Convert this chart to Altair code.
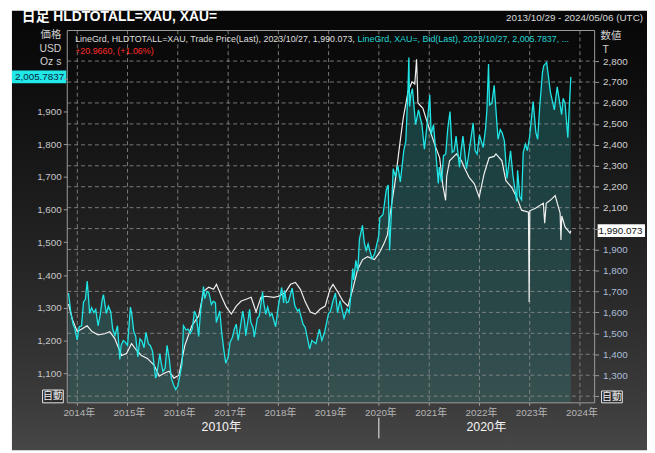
import altair as alt
import pandas as pd

# ---------------- data ----------------
# XAU= gold price (USD/oz), left axis
xau_points = [
    ("2013-10-29", 1345), ("2013-11-15", 1287), ("2013-12-01", 1250), ("2013-12-15", 1235),
    ("2013-12-31", 1202), ("2014-01-15", 1242), ("2014-02-01", 1245), ("2014-02-15", 1318),
    ("2014-03-01", 1326), ("2014-03-14", 1382), ("2014-04-01", 1283), ("2014-04-15", 1300),
    ("2014-05-01", 1285), ("2014-05-15", 1295), ("2014-06-01", 1245), ("2014-06-15", 1275),
    ("2014-07-01", 1325), ("2014-07-10", 1340), ("2014-07-31", 1282), ("2014-08-15", 1305),
    ("2014-09-01", 1288), ("2014-09-15", 1235), ("2014-10-01", 1215), ("2014-10-20", 1245),
    ("2014-11-06", 1142), ("2014-11-15", 1185), ("2014-12-01", 1200), ("2014-12-15", 1195),
    ("2015-01-01", 1185), ("2015-01-22", 1302), ("2015-02-01", 1280), ("2015-02-15", 1228),
    ("2015-03-01", 1213), ("2015-03-17", 1150), ("2015-04-01", 1205), ("2015-04-15", 1198),
    ("2015-05-01", 1178), ("2015-05-15", 1225), ("2015-06-01", 1190), ("2015-06-15", 1185),
    ("2015-07-01", 1168), ("2015-07-24", 1085), ("2015-08-01", 1095), ("2015-08-24", 1160),
    ("2015-09-01", 1135), ("2015-09-15", 1105), ("2015-10-01", 1115), ("2015-10-15", 1185),
    ("2015-11-01", 1142), ("2015-11-15", 1085), ("2015-12-01", 1065), ("2015-12-17", 1050),
    ("2016-01-01", 1060), ("2016-01-15", 1090), ("2016-02-01", 1128), ("2016-02-11", 1245),
    ("2016-03-01", 1232), ("2016-03-15", 1235), ("2016-04-01", 1222), ("2016-04-15", 1235),
    ("2016-05-01", 1290), ("2016-05-15", 1275), ("2016-06-01", 1212), ("2016-06-15", 1290),
    ("2016-07-06", 1365), ("2016-07-15", 1328), ("2016-08-01", 1350), ("2016-08-15", 1345),
    ("2016-09-01", 1310), ("2016-09-15", 1320), ("2016-10-01", 1315), ("2016-10-07", 1255),
    ("2016-11-01", 1290), ("2016-11-15", 1225), ("2016-12-01", 1170), ("2016-12-15", 1130),
    ("2017-01-01", 1150), ("2017-01-15", 1195), ("2017-02-01", 1210), ("2017-02-15", 1235),
    ("2017-03-01", 1250), ("2017-03-15", 1200), ("2017-04-01", 1245), ("2017-04-17", 1290),
    ("2017-05-01", 1255), ("2017-05-09", 1215), ("2017-06-06", 1295), ("2017-06-15", 1255),
    ("2017-07-01", 1240), ("2017-07-10", 1210), ("2017-08-01", 1268), ("2017-08-15", 1275),
    ("2017-09-08", 1348), ("2017-09-15", 1320), ("2017-10-01", 1280), ("2017-10-15", 1302),
    ("2017-11-01", 1275), ("2017-11-15", 1283), ("2017-12-12", 1242), ("2017-12-31", 1303),
    ("2018-01-25", 1362), ("2018-02-08", 1315), ("2018-02-15", 1353), ("2018-03-01", 1315),
    ("2018-03-15", 1318), ("2018-04-11", 1360), ("2018-05-01", 1305), ("2018-05-21", 1290),
    ("2018-06-01", 1295), ("2018-06-29", 1250), ("2018-07-15", 1240), ("2018-08-16", 1174),
    ("2018-09-01", 1200), ("2018-09-15", 1195), ("2018-10-01", 1190), ("2018-10-26", 1235),
    ("2018-11-13", 1200), ("2018-12-01", 1222), ("2018-12-31", 1282), ("2019-01-15", 1290),
    ("2019-02-01", 1320), ("2019-02-20", 1345), ("2019-03-07", 1285), ("2019-03-25", 1322),
    ("2019-04-23", 1268), ("2019-05-15", 1297), ("2019-05-30", 1285), ("2019-06-10", 1330),
    ("2019-06-25", 1420), ("2019-07-02", 1385), ("2019-07-18", 1445), ("2019-08-01", 1412),
    ("2019-08-13", 1510), ("2019-09-04", 1552), ("2019-09-17", 1500), ("2019-10-01", 1475),
    ("2019-10-15", 1495), ("2019-11-12", 1450), ("2019-12-01", 1465), ("2019-12-31", 1520),
    ("2020-01-08", 1575), ("2020-01-31", 1585), ("2020-02-24", 1660), ("2020-03-09", 1675),
    ("2020-03-19", 1475), ("2020-04-01", 1590), ("2020-04-14", 1725), ("2020-05-01", 1700),
    ("2020-05-18", 1735), ("2020-06-05", 1685), ("2020-06-30", 1780), ("2020-07-15", 1810),
    ("2020-07-31", 1975), ("2020-08-06", 2065), ("2020-08-11", 1915), ("2020-08-20", 1950),
    ("2020-09-01", 1970), ("2020-09-24", 1860), ("2020-10-15", 1905), ("2020-11-09", 1860),
    ("2020-11-27", 1785), ("2020-12-15", 1855), ("2021-01-05", 1950), ("2021-01-15", 1830),
    ("2021-02-01", 1860), ("2021-02-15", 1790), ("2021-03-08", 1680), ("2021-03-15", 1730),
    ("2021-03-31", 1685), ("2021-04-15", 1765), ("2021-05-01", 1770), ("2021-05-15", 1845),
    ("2021-06-01", 1900), ("2021-06-17", 1775), ("2021-07-01", 1780), ("2021-07-15", 1825),
    ("2021-08-09", 1730), ("2021-08-20", 1780), ("2021-09-03", 1825), ("2021-09-29", 1725),
    ("2021-10-15", 1770), ("2021-11-16", 1865), ("2021-12-01", 1780), ("2021-12-15", 1770),
    ("2022-01-01", 1828), ("2022-01-28", 1790), ("2022-02-15", 1850), ("2022-02-24", 1905),
    ("2022-03-08", 2045), ("2022-03-15", 1920), ("2022-04-01", 1925), ("2022-04-18", 1980),
    ("2022-05-16", 1815), ("2022-06-01", 1845), ("2022-06-15", 1835), ("2022-07-01", 1810),
    ("2022-07-20", 1695), ("2022-08-15", 1780), ("2022-09-01", 1705), ("2022-09-28", 1625),
    ("2022-10-05", 1720), ("2022-10-21", 1640), ("2022-11-03", 1630), ("2022-11-15", 1775),
    ("2022-12-01", 1800), ("2022-12-15", 1780), ("2023-01-01", 1825), ("2023-01-26", 1930),
    ("2023-02-15", 1835), ("2023-02-28", 1815), ("2023-03-15", 1915), ("2023-04-04", 2020),
    ("2023-04-13", 2040), ("2023-05-04", 2050), ("2023-05-15", 2015), ("2023-05-31", 1960),
    ("2023-06-29", 1905), ("2023-07-20", 1975), ("2023-08-08", 1925), ("2023-08-21", 1890),
    ("2023-09-01", 1940), ("2023-09-15", 1925), ("2023-10-05", 1820), ("2023-10-16", 1920),
    ("2023-10-27", 2005.7837),
]

# HLDTOTALL=XAU holdings (tonnes), right axis
hld_points = [
    ("2013-10-29", 1640), ("2013-11-25", 1569), ("2014-01-01", 1508), ("2014-02-06", 1522),
    ("2014-03-13", 1536), ("2014-04-18", 1508), ("2014-05-31", 1493), ("2014-07-19", 1498),
    ("2014-08-25", 1508), ("2014-09-30", 1475), ("2014-11-19", 1394), ("2014-12-25", 1404),
    ("2015-01-30", 1451), ("2015-03-08", 1418), ("2015-04-12", 1394), ("2015-05-25", 1380),
    ("2015-07-14", 1347), ("2015-08-19", 1295), ("2015-09-24", 1309), ("2015-10-30", 1319),
    ("2015-12-04", 1286), ("2016-01-09", 1300), ("2016-02-21", 1441), ("2016-04-12", 1536),
    ("2016-06-01", 1583), ("2016-07-07", 1701), ("2016-08-12", 1720), ("2016-09-17", 1710),
    ("2016-10-08", 1734), ("2016-11-13", 1677), ("2016-12-19", 1625), ("2017-01-24", 1592),
    ("2017-03-01", 1630), ("2017-04-06", 1654), ("2017-05-12", 1663), ("2017-06-17", 1672),
    ("2017-07-23", 1602), ("2017-08-27", 1672), ("2017-10-02", 1677), ("2017-11-29", 1672),
    ("2018-01-03", 1677), ("2018-02-22", 1696), ("2018-03-30", 1734), ("2018-05-05", 1743),
    ("2018-06-10", 1710), ("2018-07-16", 1649), ("2018-08-21", 1602), ("2018-09-26", 1592),
    ("2018-11-01", 1616), ("2018-12-07", 1630), ("2019-01-11", 1710), ("2019-02-02", 1734),
    ("2019-03-10", 1696), ("2019-04-15", 1654), ("2019-05-21", 1630), ("2019-06-25", 1710),
    ("2019-07-31", 1805), ("2019-09-05", 1852), ("2019-10-11", 1866), ("2019-11-30", 1852),
    ("2020-01-05", 1885), ("2020-02-10", 1932), ("2020-03-03", 1970), ("2020-03-24", 2074),
    ("2020-04-29", 2229), ("2020-06-04", 2418), ("2020-06-26", 2526), ("2020-07-31", 2654),
    ("2020-08-29", 2701), ("2020-09-18", 2690), ("2020-10-01", 2809), ("2020-10-11", 2600),
    ("2020-11-16", 2574), ("2020-12-22", 2498), ("2021-02-11", 2400), ("2021-03-18", 2338),
    ("2021-04-09", 2210), ("2021-04-30", 2135), ("2021-05-08", 2250), ("2021-05-29", 2324),
    ("2021-07-18", 2357), ("2021-08-23", 2324), ("2021-09-14", 2291), ("2021-10-19", 2243),
    ("2021-11-24", 2215), ("2021-12-30", 2150), ("2022-02-04", 2262), ("2022-03-12", 2338),
    ("2022-04-17", 2345), ("2022-05-01", 2357), ("2022-06-13", 2324), ("2022-07-12", 2229),
    ("2022-08-24", 2196), ("2022-09-29", 2149), ("2022-11-03", 2088), ("2022-12-23", 2078),
    ("2022-12-28", 1649), ("2023-01-02", 2085), ("2023-02-12", 2097), ("2023-04-10", 2121),
    ("2023-04-20", 2026), ("2023-05-01", 2121), ("2023-05-30", 2135), ("2023-07-05", 2158),
    ("2023-08-10", 2074), ("2023-08-16", 1946), ("2023-08-22", 2060), ("2023-09-15", 2008),
    ("2023-10-21", 1979), ("2023-10-27", 1990.073),
]

left_ticks = [1100, 1200, 1300, 1400, 1500, 1600, 1700, 1800, 1900, 2000]
right_ticks = [1200, 1300, 1400, 1500, 1600, 1700, 1800, 1900, 2000, 2100,
               2200, 2300, 2400, 2500, 2600, 2700, 2800]
year_ticks = ["2014-01-01", "2015-01-01", "2016-01-01", "2017-01-01", "2018-01-01",
              "2019-01-01", "2020-01-01", "2021-01-01", "2022-01-01", "2023-01-01",
              "2024-01-01"]
year_labels = ["2014年", "2015年", "2016年", "2017年", "2018年", "2019年",
               "2020年", "2021年", "2022年", "2023年", "2024年"]
decade_dates = ["2016-11-13", "2022-02-20"]
decade_labels = ["2010年", "2020年"]
decade_tick = ["2020-01-01"]

title_text = "日足 HLDTOTALL=XAU, XAU="
range_text = "2013/10/29 - 2024/05/06 (UTC)"
legend_white = "LineGrd, HLDTOTALL=XAU, Trade Price(Last), 2023/10/27, 1,990.073,"
legend_cyan = "LineGrd, XAU=, Bid(Last), 2023/10/27, 2,005.7837, ..."
change_text = "+20.9660, (+1.06%)"
left_units = ["価格", "USD", "Oz s"]
right_units = ["数値", "T"]
auto_text = "自動"

# ---------------- chart ----------------
W, H = 534, 377
FONT = "Liberation Sans, Noto Sans CJK JP"
CYAN = "#1fe6e6"
GRIDC = "#8c8c8c"

xau = pd.DataFrame(xau_points, columns=["date", "price"])
hld = pd.DataFrame(hld_points, columns=["date", "tonnes"])
years = pd.DataFrame({"date": year_ticks, "label": year_labels})
one = pd.DataFrame({"k": [0]})

xs = alt.Scale(domain=[alt.DateTime(year=2013, month=10, date=20, utc=True),
                       alt.DateTime(year=2024, month=4, date=17, utc=True)], nice=False)
ls = alt.Scale(domain=[1009.4, 2147.5], zero=False, nice=False)
rs = alt.Scale(domain=[1168, 2946], zero=False, nice=False)
X_NONE = alt.X("date:T", scale=xs, axis=None)


def txt(text, x, y, size=10, color="#d0d0d0", align="left", weight="normal"):
    return alt.Chart(one).mark_text(
        text=text, align=align, baseline="middle", fontSize=size, color=color,
        font=FONT, fontWeight=weight
    ).encode(x=alt.value(x), y=alt.value(y))


bg = alt.Chart(one).mark_rect(
    fill=alt.Gradient(
        gradient="linear", x1=0, x2=0, y1=0, y2=1,
        stops=[alt.GradientStop(offset=0, color="#070707"),
               alt.GradientStop(offset=0.12, color="#0b0b0b"),
               alt.GradientStop(offset=0.43, color="#1c1c1c"),
               alt.GradientStop(offset=0.66, color="#2a2a2a"),
               alt.GradientStop(offset=0.89, color="#3b3b3b"),
               alt.GradientStop(offset=1, color="#474747")])
).encode(x=alt.value(-56), x2=alt.value(587), y=alt.value(-20), y2=alt.value(425))

area = alt.Chart(xau).mark_area(
    clip=True,
    fill=alt.Gradient(
        gradient="linear", x1=0, x2=0, y1=0, y2=1,
        stops=[alt.GradientStop(offset=0, color="rgba(40,165,165,0.32)"),
               alt.GradientStop(offset=0.6, color="rgba(40,165,165,0.18)"),
               alt.GradientStop(offset=1, color="rgba(40,165,165,0.07)")])
).encode(
    x=X_NONE,
    y=alt.Y("price:Q", scale=ls, axis=alt.Axis(
        orient="left", values=left_ticks,
        labelExpr="datum.value == 2000 ? '' : format(datum.value, ',')",
        labelColor="#c6c6c6", labelFontSize=10, labelFont=FONT, labelPadding=2,
        tickColor="#9a9a9a", tickSize=4, domain=False, grid=False, title=None,
        zindex=1, labelFlush=False, labelOverlap=False)),
)

hgrid = alt.Chart(pd.DataFrame({"v": right_ticks})).mark_rule(
    color=GRIDC, strokeDash=[4, 3], strokeWidth=1, opacity=0.85
).encode(y=alt.Y("v:Q", scale=rs, axis=None), x=alt.value(0), x2=alt.value(W))

vgrid = alt.Chart(years).mark_rule(
    color=GRIDC, strokeDash=[4, 3], strokeWidth=1, opacity=0.85
).encode(x=X_NONE, y=alt.value(0), y2=alt.value(H))

# x axis ticks and labels (from the year list, placed by the time scale)
xticks = alt.Chart(years).mark_rule(color="#9a9a9a", strokeWidth=1).encode(
    x=X_NONE, y=alt.value(H), y2=alt.value(H + 3))
xlabels = alt.Chart(years).mark_text(
    color="#b6b6b6", fontSize=10, font=FONT, baseline="middle", align="center", dx=2
).encode(x=X_NONE, y=alt.value(H + 10), text="label:N")

white_line = alt.Chart(hld).mark_line(
    color="#f0f0f0", strokeWidth=1.2, clip=True
).encode(
    x=X_NONE,
    y=alt.Y("tonnes:Q", scale=rs, axis=alt.Axis(
        orient="right", values=right_ticks,
        labelExpr="(datum.value == 2000 || datum.value == 1200) ? '' : format(datum.value, ',')",
        labelColor={"condition": {"test": "datum.value < 2000", "value": "#a9bdd8"},
                    "value": "#cfcfcf"},
        labelFontSize=10, labelFont=FONT, labelPadding=4,
        tickColor="#9a9a9a", tickSize=4, domain=False, grid=False, title=None,
        zindex=1, labelFlush=False, labelOverlap=False)),
)

cyan_line = alt.Chart(xau).mark_line(
    color=CYAN, strokeWidth=1.3, clip=True
).encode(x=X_NONE, y=alt.Y("price:Q", scale=ls, axis=None))

frame = alt.Chart(one).mark_rect(
    fillOpacity=0, stroke="#9c9c9c", strokeWidth=1
).encode(x=alt.value(0), x2=alt.value(W), y=alt.value(0), y2=alt.value(H))

# value boxes on the axes, positioned by the scales
xau_last = xau.tail(1)
hld_last = hld.tail(1)
left_box = alt.Chart(xau_last).transform_calculate(
    lo="datum.price - 19.6", hi="datum.price + 19.6"
).mark_rect(fill="#22e8e8").encode(
    x=alt.value(-56), x2=alt.value(-1),
    y=alt.Y("lo:Q", scale=ls, axis=None), y2="hi:Q")
left_box_text = alt.Chart(xau_last).mark_text(
    align="right", baseline="middle", fontSize=10, color="#0a2640", font=FONT
).encode(x=alt.value(-3), y=alt.Y("price:Q", scale=ls, axis=None),
         text=alt.Text("price:Q", format=",.4f"))

right_box = alt.Chart(hld_last).transform_calculate(
    lo="datum.tonnes - 30.7", hi="datum.tonnes + 30.7"
).mark_rect(fill="#ffffff").encode(
    x=alt.value(537), x2=alt.value(585),
    y=alt.Y("lo:Q", scale=rs, axis=None), y2="hi:Q")
right_box_text = alt.Chart(hld_last).mark_text(
    align="left", baseline="middle", fontSize=10, color="#111111", font=FONT
).encode(x=alt.value(538), y=alt.Y("tonnes:Q", scale=rs, axis=None),
         text=alt.Text("tonnes:Q", format=",.3f"))

decades = alt.Chart(pd.DataFrame({"date": decade_dates, "label": decade_labels})).mark_text(
    color="#f4f4f4", fontSize=12.5, font=FONT, baseline="middle", align="center"
).encode(x=X_NONE, y=alt.value(H + 25), text="label:N")

decade_rule = alt.Chart(pd.DataFrame({"date": decade_tick})).mark_rule(
    color="#f4f4f4", strokeWidth=1
).encode(x=X_NONE, y=alt.value(H + 15), y2=alt.value(H + 36))

auto_left_box = alt.Chart(one).mark_rect(fill="#2a2a2a", stroke="#e8e8e8", strokeWidth=1).encode(
    x=alt.value(-25), x2=alt.value(-4), y=alt.value(364), y2=alt.value(377))
auto_right_box = alt.Chart(one).mark_rect(fill="#2a2a2a", stroke="#e8e8e8", strokeWidth=1).encode(
    x=alt.value(541), x2=alt.value(562), y=alt.value(365), y2=alt.value(377))

layers = [
    bg, area, hgrid, vgrid, xticks, xlabels, white_line, cyan_line, frame,
    left_box, left_box_text, right_box, right_box_text,
    decades, decade_rule, auto_left_box, auto_right_box,
    txt(auto_text, -14.5, 370.5, size=10, color="#f0f0f0", align="center"),
    txt(auto_text, 551.5, 371, size=10, color="#f0f0f0", align="center"),
    txt(title_text, -46, -14, size=14, color="#ffffff", weight="bold"),
    txt(range_text, 583, -13, size=10, color="#d8d8d8", align="right"),
    txt(legend_white, 8, 9, size=9, color="#dedede"),
    txt(legend_cyan, 294, 9, size=9, color="#25d4d4"),
    txt(change_text, 8, 21, size=9, color="#ff2a2a"),
    txt(left_units[0], -6, 5, size=10.5, color="#d0d0d0", align="right"),
    txt(left_units[1], -6, 19, size=10.5, color="#d0d0d0", align="right"),
    txt(left_units[2], -6, 32, size=10.5, color="#d0d0d0", align="right"),
    txt(right_units[0], 540, 6, size=10.5, color="#d0d0d0"),
    txt(right_units[1], 542, 20, size=10.5, color="#d0d0d0"),
]

chart = alt.layer(*layers).resolve_scale(y="independent").properties(
    width=W, height=H,
    padding={"left": 60, "top": 20, "right": 53, "bottom": 48},
    autosize="none",
    background="#ffffff",
).configure_view(stroke="transparent")

chart.save("out.html", embed_options={"renderer": "svg", "actions": False})
